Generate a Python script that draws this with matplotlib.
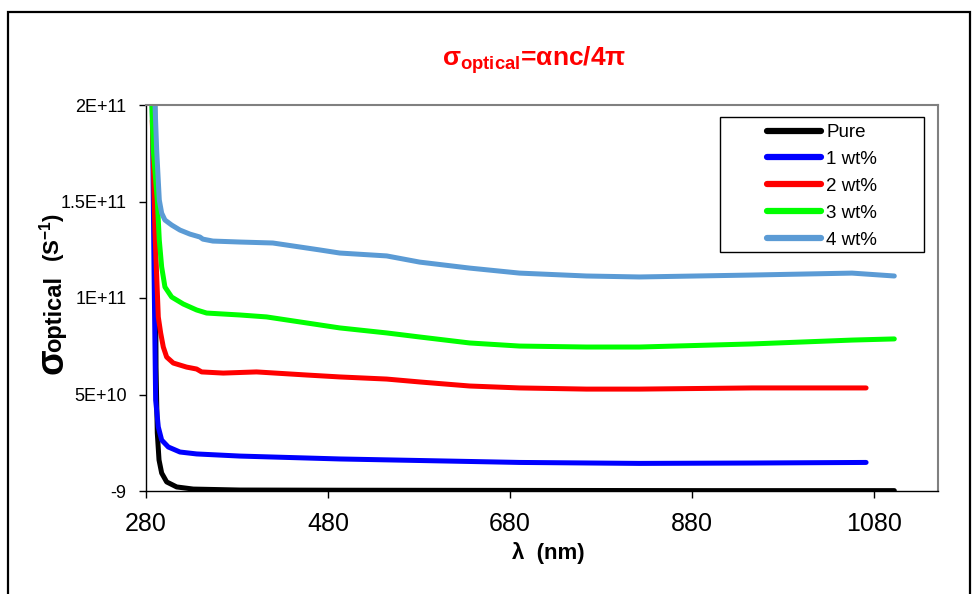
import matplotlib
matplotlib.use("Agg")
import matplotlib.pyplot as plt
from matplotlib.patches import Rectangle

plt.rcParams['font.family'] = ['Liberation Sans', 'DejaVu Sans']
plt.rcParams['mathtext.fontset'] = 'custom'
plt.rcParams['mathtext.rm'] = 'Liberation Sans:bold'
plt.rcParams['mathtext.bf'] = 'Liberation Sans:bold'

# data (wavelength in nm, sigma in units of 1e9 s^-1)
pure_nm = [289.5, 291.0, 292.4, 294.3, 297.2, 302.7, 313.7, 331.9, 383.1, 492.8,
           700, 900, 1102]
pure_s = [210, 64.2, 30.1, 16.1, 9.3, 4.7, 2.1, 1.0, 0.5, 0.4,
          0.3, 0.2, 0.2]

wt1_nm = [286.9, 288.8, 290.6, 293.5, 297.2, 304.5, 317.3, 335.6, 383.1, 492.8,
          580.6, 690.3, 822, 946, 1071]
wt1_s = [202, 116, 47.1, 33.2, 26.4, 22.8, 20.2, 19.2, 18.1, 16.6,
         15.8, 14.8, 14.3, 14.5, 14.8]

wt2_nm = [286.9, 289.9, 293.5, 296.1, 299.0, 302.7, 310.0, 324.6, 335.6, 341.1,
          364.8, 401.4, 456.3, 492.8, 544.4, 580.6, 635.5, 690.3, 763.8, 822,
          946, 1071]
wt2_s = [192, 133.7, 90.2, 81.9, 74.6, 69.4, 66.3, 64.2, 63.2, 61.7,
         61.1, 61.7, 60.1, 59.1, 58.0, 56.5, 54.4, 53.4, 52.8, 52.8,
         53.4, 53.4]

wt3_nm = [286.3, 288.0, 292.4, 294.6, 297.2, 300.8, 308.2, 320.9, 335.6, 346.6,
          383.1, 412.4, 449.0, 492.8, 544.4, 580.6, 635.5, 690.3, 763.8, 822,
          946, 1055.6, 1102]
wt3_s = [202, 176.7, 150.8, 130.0, 116.1, 105.7, 100.5, 96.9, 93.8, 92.2,
         91.2, 90.2, 87.6, 84.5, 81.9, 79.8, 76.7, 75.1, 74.6, 74.6,
         76.2, 78.2, 78.8]

wt4_nm = [289.9, 291.7, 294.6, 297.2, 300.8, 308.2, 317.3, 328.3, 339.2, 342.5,
          353.5, 383.1, 419.3, 456.6, 470.9, 492.8, 544.4, 580.6, 635.5, 690.3,
          763.8, 822, 946, 1055.6, 1102]
wt4_s = [200, 176.8, 150.8, 144.0, 140.4, 137.8, 135.2, 133.1, 131.6, 130.5,
         129.5, 129.0, 128.5, 125.9, 124.9, 123.3, 121.8, 118.6, 115.5, 112.9,
         111.4, 110.9, 111.9, 112.9, 111.4]

series = [("Pure", pure_nm, pure_s, "black"),
          ("1 wt%", wt1_nm, wt1_s, "#0000ff"),
          ("2 wt%", wt2_nm, wt2_s, "#ff0000"),
          ("3 wt%", wt3_nm, wt3_s, "#00ff00"),
          ("4 wt%", wt4_nm, wt4_s, "#5b9bd5")]

y_ticks = [0, 5e10, 1e11, 1.5e11, 2e11]
y_labels = ["-9", "5E+10", "1E+11", "1.5E+11", "2E+11"]
x_ticks = [280, 480, 680, 880, 1080]

W, H = 974, 594
fig = plt.figure(figsize=(W / 100, H / 100), dpi=100)
ax = fig.add_axes([146 / W, 1 - 491 / H, (938 - 146) / W, (491 - 105) / H])

for name, x, s, c in series:
    ax.plot(x, [v * 1e9 for v in s], color=c, lw=3.6, label=name,
            solid_capstyle='round', solid_joinstyle='round')

ax.set_xlim(280, 1150)
ax.set_ylim(0, 2e11)
ax.set_xticks(x_ticks)
ax.set_xticklabels([str(t) for t in x_ticks], fontsize=18)
ax.set_yticks(y_ticks)
ax.set_yticklabels(y_labels, fontsize=13)
ax.tick_params(axis='both', direction='out', length=5, width=1, color='black')
ax.tick_params(axis='x', pad=10)
ax.tick_params(axis='y', pad=9)

for side in ['top', 'right']:
    ax.spines[side].set_color('#808080')
    ax.spines[side].set_linewidth(1.5)
for side in ['left', 'bottom']:
    ax.spines[side].set_color('black')
    ax.spines[side].set_linewidth(1)

# title and axis labels
fig.text(534 / W, 1 - 60 / H, r'$\mathrm{σ_{optical}}$=αnc/4π', color='red',
         fontsize=19, fontweight='bold', ha='center', va='center')
fig.text(548 / W, 1 - 553 / H, "λ  (nm)", fontsize=16, fontweight='bold',
         ha='center', va='center')
fig.text(62 / W, 1 - 374 / H, "σ", fontsize=27, fontweight='bold',
         rotation=90, rotation_mode='anchor', ha='left', va='baseline')
fig.text(61 / W, 1 - 352 / H, "optical", fontsize=17, fontweight='bold',
         rotation=90, rotation_mode='anchor', ha='left', va='baseline')
fig.text(60 / W, 1 - 262 / H, r"(S$^{\mathrm{-1}}$)", fontsize=16, fontweight='bold',
         rotation=90, rotation_mode='anchor', ha='left', va='baseline')

# legend with a separate frame
leg = ax.legend(loc='upper left', bbox_to_anchor=(767 / W, 1 - 124 / H),
                bbox_transform=fig.transFigure, frameon=False, fontsize=13.5,
                handlelength=2.9, handletextpad=0.25, labelspacing=0.52,
                borderpad=0, borderaxespad=0)
for line in leg.get_lines():
    line.set_linewidth(4.5)
fig.patches.append(Rectangle((720 / W, 1 - 252 / H), (924 - 720) / W, (252 - 117) / H,
                             transform=fig.transFigure, fill=False,
                             edgecolor='black', lw=1))

# outer chart border
fig.patches.append(Rectangle((8 / W, -0.1), (970 - 8) / W, 1 - 12 / H + 0.1,
                             transform=fig.transFigure, fill=False,
                             edgecolor='black', lw=1.6, clip_on=False))

fig.savefig("out.png", dpi=100)
